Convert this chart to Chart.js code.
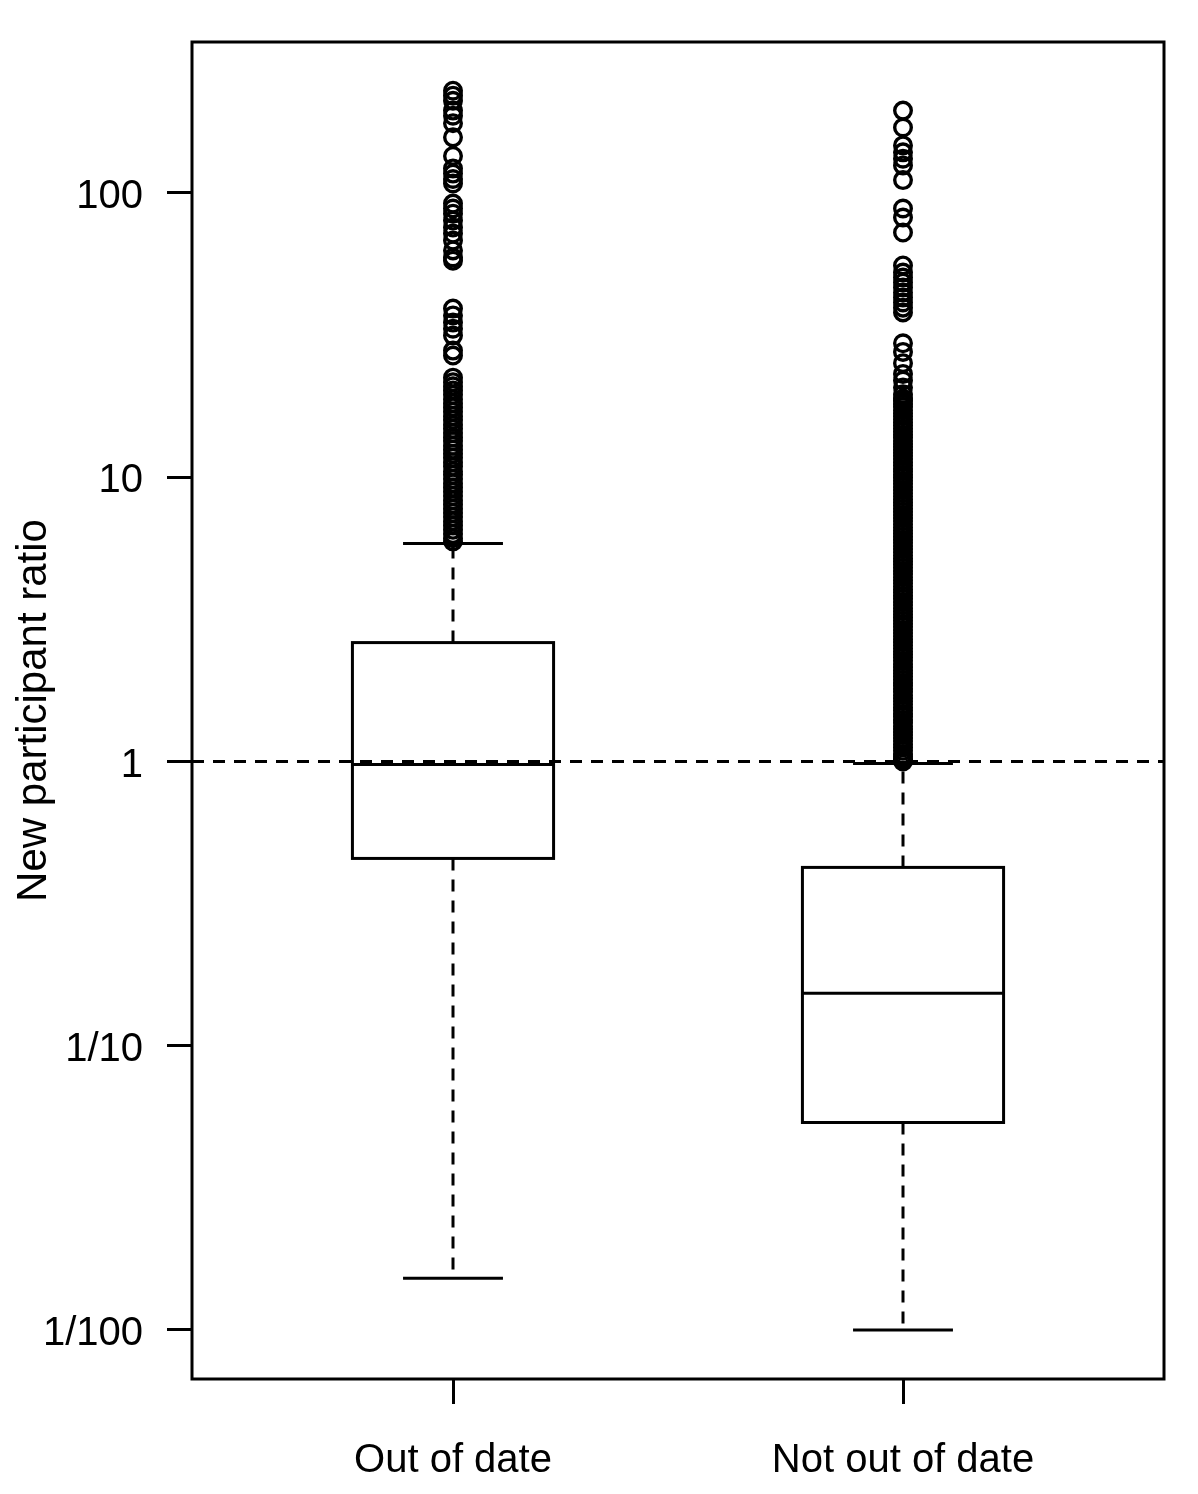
<!DOCTYPE html>
<html>
<head>
<meta charset="utf-8">
<script src="https://cdn.jsdelivr.net/npm/chart.js@4.4.1/dist/chart.umd.min.js"></script>
<style>
html,body{margin:0;padding:0;background:#fff;}
canvas{display:block;}
</style>
</head>
<body>
<canvas id="c" width="1198" height="1494"></canvas>
<script>
// ---------- data ----------
const categories = ['Out of date', 'Not out of date'];
const positions = [1, 2];
const whiskerLow = [0.0152, 0.0100];
const q1 = [0.456, 0.0537];
const median = [0.976, 0.153];
const q3 = [2.62, 0.424];
const whiskerHigh = [5.85, 0.984];

const outliersOutOfDate = [
  229, 220, 211, 195, 187, 176, 157, 135, 122, 117, 112, 108,
  91.8, 88.2, 84.6, 80.0, 75.6, 72.0, 68.0, 62.8, 59.3, 57.8,
  39.2, 37.1, 35.0, 33.3, 31.5, 27.9, 26.8,
  22.4, 21.6, 20.9, 20.2, 19.5, 18.8, 18.2, 17.6, 17.0, 16.4, 15.9, 15.3,
  14.8, 14.3, 13.8, 13.4, 12.9, 12.5, 12.1, 11.7, 11.3, 10.9, 10.5, 10.2,
  9.85, 9.52, 9.20, 8.89, 8.59, 8.30, 8.02, 7.75, 7.49, 7.24, 7.00, 6.76,
  6.53, 6.31, 6.10, 5.95
];
const outliersNotOutOfDate = [
  195, 170, 147, 139, 132, 125, 111, 88.2, 82.0, 72.6,
  55.6, 52.5, 50.4, 48.4, 46.5, 44.7, 42.9, 41.2, 39.5, 38.0,
  29.6, 27.6, 25.2, 23.1, 21.9, 20.7, 19.6, 18.9,
  18.6, 18.1, 17.7, 17.2, 16.8, 16.4, 16.0, 15.6, 15.2, 14.8, 14.5, 14.1,
  13.8, 13.4, 13.1, 12.8, 12.5, 12.2, 11.9, 11.6, 11.3, 11.0, 10.7, 10.5,
  10.2, 9.97, 9.72, 9.48, 9.24, 9.01, 8.79, 8.57, 8.36, 8.15, 7.95, 7.75,
  7.56, 7.37, 7.19, 7.01, 6.83, 6.66, 6.50, 6.34, 6.18, 6.03, 5.88, 5.73,
  5.59, 5.45, 5.31, 5.18, 5.05, 4.93, 4.80, 4.68, 4.57, 4.45, 4.34, 4.24,
  4.13, 4.03, 3.93, 3.83, 3.74, 3.64, 3.55, 3.46, 3.38, 3.29, 3.21, 3.13,
  3.05, 2.98, 2.90, 2.83, 2.76, 2.69, 2.63, 2.56, 2.50, 2.44, 2.38, 2.32,
  2.26, 2.20, 2.15, 2.09, 2.04, 1.99, 1.94, 1.89, 1.85, 1.80, 1.76, 1.71,
  1.67, 1.63, 1.59, 1.55, 1.51, 1.47, 1.44, 1.40, 1.37, 1.33, 1.30, 1.27,
  1.24, 1.21, 1.18, 1.15, 1.12, 1.09, 1.06, 1.04, 1.02, 1.01, 1.00
];
const yTickValues = [0.01, 0.1, 1, 10, 100];
const yTickLabels = ['1/100', '1/10', '1', '10', '100'];
const referenceValue = 1;
const yTitle = 'New participant ratio';

// ---------- styles ----------
const FONT = "'Liberation Sans', Arial, Helvetica, sans-serif";
const LW = 3;
const BOX_HALF = 0.2235;
const STAPLE_HALF = 0.111;
const DASH = [12, 9];

const boxPlugin = {
  id: 'boxes',
  beforeDatasetsDraw(chart) {
    const {ctx, scales: {x, y}} = chart;
    ctx.save();
    ctx.strokeStyle = '#000';
    ctx.lineWidth = LW;
    positions.forEach((p, i) => {
      const cx = x.getPixelForValue(p);
      const bl = x.getPixelForValue(p - BOX_HALF);
      const br = x.getPixelForValue(p + BOX_HALF);
      const sl = x.getPixelForValue(p - STAPLE_HALF);
      const sr = x.getPixelForValue(p + STAPLE_HALF);
      const yq1 = y.getPixelForValue(q1[i]);
      const yq3 = y.getPixelForValue(q3[i]);
      const ym = y.getPixelForValue(median[i]);
      const ylo = y.getPixelForValue(whiskerLow[i]);
      const yhi = y.getPixelForValue(whiskerHigh[i]);
      ctx.setLineDash(DASH);
      ctx.beginPath();
      ctx.moveTo(cx, yq3); ctx.lineTo(cx, yhi);
      ctx.moveTo(cx, yq1); ctx.lineTo(cx, ylo);
      ctx.stroke();
      ctx.setLineDash([]);
      ctx.beginPath();
      ctx.moveTo(sl, yhi); ctx.lineTo(sr, yhi);
      ctx.moveTo(sl, ylo); ctx.lineTo(sr, ylo);
      ctx.stroke();
      ctx.strokeRect(bl, yq3, br - bl, yq1 - yq3);
      ctx.beginPath();
      ctx.moveTo(bl, ym); ctx.lineTo(br, ym);
      ctx.stroke();
    });
    ctx.restore();
  },
  afterDatasetsDraw(chart) {
    const {ctx, chartArea: a, scales: {y}} = chart;
    ctx.save();
    ctx.strokeStyle = '#000';
    ctx.lineWidth = LW;
    const yr = y.getPixelForValue(referenceValue);
    ctx.setLineDash(DASH);
    ctx.beginPath();
    ctx.moveTo(a.left, yr); ctx.lineTo(a.right, yr);
    ctx.stroke();
    ctx.setLineDash([]);
    ctx.strokeRect(a.left, a.top, a.right - a.left, a.bottom - a.top);
    ctx.restore();
  }
};

const pointStyle = {
  pointRadius: 8.3,
  pointHoverRadius: 8.3,
  pointBorderWidth: 3.4,
  pointBorderColor: '#000',
  pointBackgroundColor: 'rgba(0,0,0,0)',
  showLine: false
};

new Chart(document.getElementById('c'), {
  type: 'scatter',
  data: {
    datasets: [
      Object.assign({label: categories[0], data: outliersOutOfDate.map(v => ({x: positions[0], y: v}))}, pointStyle),
      Object.assign({label: categories[1], data: outliersNotOutOfDate.map(v => ({x: positions[1], y: v}))}, pointStyle)
    ]
  },
  options: {
    responsive: false,
    animation: false,
    events: [],
    layout: {padding: {left: 0, right: 34, top: 42, bottom: 0}},
    plugins: {legend: {display: false}, tooltip: {enabled: false}},
    scales: {
      x: {
        type: 'linear',
        min: 0.42, max: 2.58,
        bounds: 'data',
        afterBuildTicks: s => { s.ticks = positions.map(v => ({value: v})); },
        afterFit: s => { s.height = 115; s.paddingLeft = 0; s.paddingRight = 0; },
        grid: {display: true, drawOnChartArea: false, drawTicks: true, tickLength: 25, color: '#000', lineWidth: LW},
        border: {display: false},
        ticks: {
          callback: (v, i) => categories[i],
          font: {family: FONT, size: 40},
          color: '#000',
          padding: 33,
          maxRotation: 0,
          autoSkip: false
        }
      },
      y: {
        type: 'logarithmic',
        min: 0.006723, max: 339.8,
        bounds: 'data',
        afterBuildTicks: s => { s.ticks = yTickValues.map(v => ({value: v})); },
        afterFit: s => { s.width = 192; s.paddingTop = 0; s.paddingBottom = 0; },
        grid: {display: true, drawOnChartArea: false, drawTicks: true, tickLength: 25, color: '#000', lineWidth: LW},
        border: {display: false},
        title: {
          display: true,
          text: yTitle,
          font: {family: FONT, size: 42},
          color: '#000',
          padding: {top: 9, bottom: 0}
        },
        ticks: {
          callback: (v, i) => yTickLabels[i],
          font: {family: FONT, size: 40},
          color: '#000',
          padding: 24,
          labelOffset: 4,
          autoSkip: false
        }
      }
    }
  },
  plugins: [boxPlugin]
});
</script>
</body>
</html>
